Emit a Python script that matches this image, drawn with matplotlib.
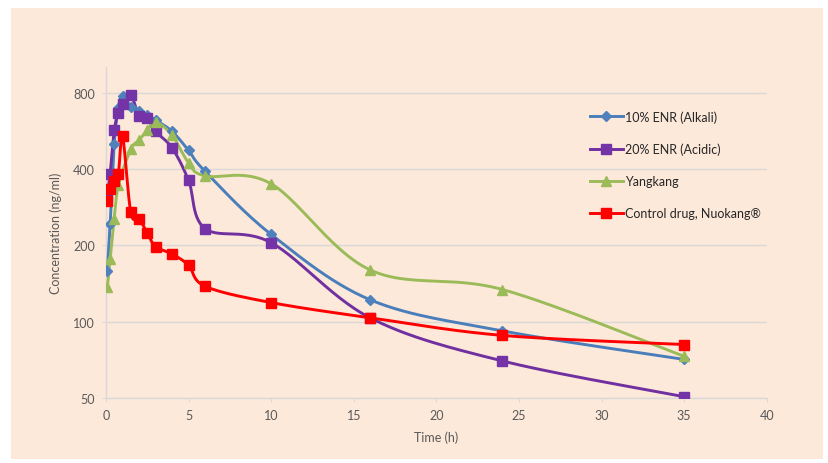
import numpy as np
import matplotlib
matplotlib.use("Agg")
import matplotlib.pyplot as plt
from matplotlib.patches import Rectangle

# ---------------- data ----------------
time_h = [0.083, 0.25, 0.5, 0.75, 1, 1.5, 2, 2.5, 3, 4, 5, 6, 10, 16, 24, 35]
enr10_alkali = [159, 242, 505, 700, 780, 705, 680, 655, 625, 564, 474, 392, 221, 122, 92, 71]
enr20_acidic = [314, 384, 569, 669, 725, 785, 649, 638, 564, 485, 361, 233, 205, 103.5, 70, 50.6]
time_yk = [0.083, 0.25, 0.5, 0.75, 1.5, 2, 2.5, 3, 4, 5, 6, 10, 16, 24, 35]
yangkang = [137, 177, 255, 345, 479, 520, 570, 615, 544, 424, 376, 350, 160, 134, 73]
nuokang = [299, 335, 358, 384, 541, 270, 255, 224, 198, 185, 167, 138, 119, 103.6, 88.3, 81.3]

series_labels = ["10% ENR (Alkali)", "20% ENR (Acidic)", "Yangkang", "Control drug, Nuokang®"]
x_ticks = [0, 5, 10, 15, 20, 25, 30, 35, 40]
y_ticks = [50, 100, 200, 400, 800]

BG = "#FDE9DA"
GRID = "#D9D9D9"
TXT = "#595959"
FONT = "Lato"

W, H = 829, 464
fig = plt.figure(figsize=(W / 100, H / 100), dpi=100)
fig.patch.set_facecolor("white")
fig.patches.append(Rectangle((11 / W, 1 - 460 / H), (823 - 11) / W, (460 - 9) / H,
                             transform=fig.transFigure, facecolor=BG, edgecolor="none", zorder=0))

ax = fig.add_axes([106 / W, 1 - 399 / H, (766.7 - 106) / W, (399 - 68) / H])
ax.set_facecolor("none")
ax.set_yscale("log", base=2)
ax.set_xlim(0, 40)
ax.set_ylim(50, 1012)
ax.set_xticks(x_ticks)
ax.set_xticklabels([str(v) for v in x_ticks])
ax.set_yticks(y_ticks)
ax.set_yticklabels([str(v) for v in y_ticks])
ax.yaxis.set_minor_locator(matplotlib.ticker.NullLocator())
ax.set_axisbelow(True)
ax.grid(axis="y", color=GRID, linewidth=1.0)
for s in ["top", "right"]:
    ax.spines[s].set_visible(False)
for s in ["left", "bottom"]:
    ax.spines[s].set_color(GRID)
    ax.spines[s].set_linewidth(1.0)
ax.tick_params(axis="both", which="major", length=3, color=GRID, labelsize=9,
               labelcolor=TXT, pad=5)
for lab in ax.get_xticklabels() + ax.get_yticklabels():
    lab.set_fontfamily(FONT)
ax.set_xlabel("Time (h)", fontsize=9, color=TXT, family=FONT, labelpad=7)
ax.set_ylabel("Concentration (ng/ml)", fontsize=9, color=TXT, family=FONT, labelpad=8)


def smooth(xs, ys, n=30):
    """Excel-style smoothed line computed in display space."""
    pts = ax.transData.transform(np.column_stack([xs, ys]))
    P = np.vstack([pts[0], pts, pts[-1]])
    out = []
    for i in range(1, len(P) - 2):
        p0, p1, p2, p3 = P[i - 1], P[i], P[i + 1], P[i + 2]
        c1 = p1 + (p2 - p0) / 6.0
        c2 = p2 - (p3 - p1) / 6.0
        t = np.linspace(0, 1, n)[:, None]
        seg = ((1 - t) ** 3) * p1 + 3 * ((1 - t) ** 2) * t * c1 + 3 * (1 - t) * t ** 2 * c2 + t ** 3 * p2
        out.append(seg if i == 1 else seg[1:])
    seg = np.vstack(out)
    d = ax.transData.inverted().transform(seg)
    return d[:, 0], d[:, 1]


series = [
    (time_h, enr10_alkali, "#4A7EBB", "#4F81BD", "D", 5.5),
    (time_h, enr20_acidic, "#7030A0", "#7434A8", "s", 7),
    (time_yk, yangkang, "#9BBB59", "#9BBB59", "^", 7.5),
    (time_h, nuokang, "#FF0000", "#FF0000", "s", 6.5),
]

handles = []
for (xs, ys, lc, mc, mk, ms), lab in zip(series, series_labels):
    sx, sy = smooth(xs, ys)
    ax.plot(sx, sy, color=lc, linewidth=2.1, solid_capstyle="round", zorder=3)
    ax.plot(xs, ys, linestyle="none", marker=mk, markersize=ms, markerfacecolor=mc,
            markeredgecolor=mc, zorder=4)
    h, = ax.plot([], [], color=lc, linewidth=2.1, marker=mk, markersize=ms,
                 markerfacecolor=mc, markeredgecolor=mc)
    handles.append(h)

# legend area background (hides gridline under the legend, as in the original)
fig.patches.append(Rectangle((553 / W, 1 - 238 / H), (800 - 553) / W, (238 - 98) / H,
                             transform=fig.transFigure, facecolor=BG, edgecolor="none", zorder=1))
ax.set_zorder(2)

leg = ax.legend(handles, series_labels, loc="upper left",
                bbox_to_anchor=(590 / W, 1 - 111 / H), bbox_transform=fig.transFigure,
                frameon=False, borderpad=0, borderaxespad=0, handlelength=2.6,
                handletextpad=0.2, labelspacing=1.6,
                prop={"family": FONT, "size": 9})
for t in leg.get_texts():
    t.set_color("#262626")

fig.savefig("out.png", dpi=100, facecolor=fig.get_facecolor())
